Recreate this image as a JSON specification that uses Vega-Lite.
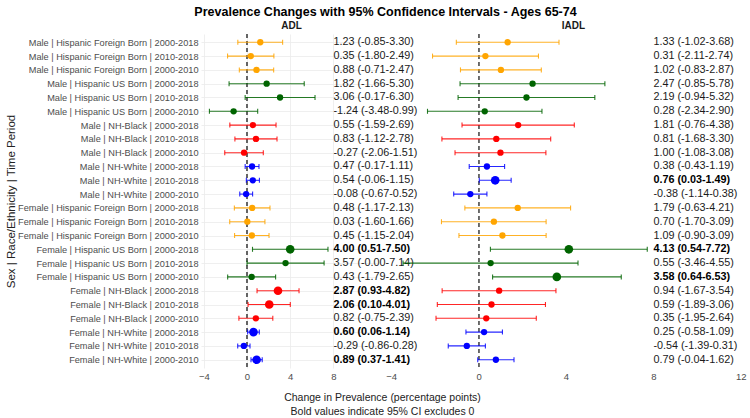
{
  "$schema": "https://vega.github.io/schema/vega-lite/v6.json",
  "background": "white",
  "padding": 5,
  "title": {
    "text": "Prevalence Changes with 95% Confidence Intervals - Ages 65-74",
    "font": "Liberation Sans",
    "fontSize": 12.5,
    "fontWeight": "bold",
    "color": "#000000",
    "anchor": "middle",
    "frame": "bounds",
    "dx": 10,
    "offset": 2
  },
  "config": {
    "font": "Liberation Sans",
    "view": {"stroke": null},
    "axis": {
      "ticks": false,
      "domain": false,
      "grid": true,
      "gridColor": "#ebebeb",
      "gridWidth": 0.8,
      "labelColor": "#4d4d4d",
      "labelFont": "Liberation Sans",
      "titleFont": "Liberation Sans",
      "titleFontWeight": "normal",
      "titleColor": "#222222"
    }
  },
  "datasets": {
    "estimates": [
      {"group": "Male | Hispanic Foreign Born | 2000-2018", "race": "Hispanic Foreign Born", "outcome": "ADL", "est": 1.23, "lo": -0.85, "hi": 3.30, "label": "1.23 (-0.85-3.30)"},
      {"group": "Male | Hispanic Foreign Born | 2010-2018", "race": "Hispanic Foreign Born", "outcome": "ADL", "est": 0.35, "lo": -1.80, "hi": 2.49, "label": "0.35 (-1.80-2.49)"},
      {"group": "Male | Hispanic Foreign Born | 2000-2010", "race": "Hispanic Foreign Born", "outcome": "ADL", "est": 0.88, "lo": -0.71, "hi": 2.47, "label": "0.88 (-0.71-2.47)"},
      {"group": "Male | Hispanic US Born | 2000-2018", "race": "Hispanic US Born", "outcome": "ADL", "est": 1.82, "lo": -1.66, "hi": 5.30, "label": "1.82 (-1.66-5.30)"},
      {"group": "Male | Hispanic US Born | 2010-2018", "race": "Hispanic US Born", "outcome": "ADL", "est": 3.06, "lo": -0.17, "hi": 6.30, "label": "3.06 (-0.17-6.30)"},
      {"group": "Male | Hispanic US Born | 2000-2010", "race": "Hispanic US Born", "outcome": "ADL", "est": -1.24, "lo": -3.48, "hi": 0.99, "label": "-1.24 (-3.48-0.99)"},
      {"group": "Male | NH-Black | 2000-2018", "race": "NH-Black", "outcome": "ADL", "est": 0.55, "lo": -1.59, "hi": 2.69, "label": "0.55 (-1.59-2.69)"},
      {"group": "Male | NH-Black | 2010-2018", "race": "NH-Black", "outcome": "ADL", "est": 0.83, "lo": -1.12, "hi": 2.78, "label": "0.83 (-1.12-2.78)"},
      {"group": "Male | NH-Black | 2000-2010", "race": "NH-Black", "outcome": "ADL", "est": -0.27, "lo": -2.06, "hi": 1.51, "label": "-0.27 (-2.06-1.51)"},
      {"group": "Male | NH-White | 2000-2018", "race": "NH-White", "outcome": "ADL", "est": 0.47, "lo": -0.17, "hi": 1.11, "label": "0.47 (-0.17-1.11)"},
      {"group": "Male | NH-White | 2010-2018", "race": "NH-White", "outcome": "ADL", "est": 0.54, "lo": -0.06, "hi": 1.15, "label": "0.54 (-0.06-1.15)"},
      {"group": "Male | NH-White | 2000-2010", "race": "NH-White", "outcome": "ADL", "est": -0.08, "lo": -0.67, "hi": 0.52, "label": "-0.08 (-0.67-0.52)"},
      {"group": "Female | Hispanic Foreign Born | 2000-2018", "race": "Hispanic Foreign Born", "outcome": "ADL", "est": 0.48, "lo": -1.17, "hi": 2.13, "label": "0.48 (-1.17-2.13)"},
      {"group": "Female | Hispanic Foreign Born | 2010-2018", "race": "Hispanic Foreign Born", "outcome": "ADL", "est": 0.03, "lo": -1.60, "hi": 1.66, "label": "0.03 (-1.60-1.66)"},
      {"group": "Female | Hispanic Foreign Born | 2000-2010", "race": "Hispanic Foreign Born", "outcome": "ADL", "est": 0.45, "lo": -1.15, "hi": 2.04, "label": "0.45 (-1.15-2.04)"},
      {"group": "Female | Hispanic US Born | 2000-2018", "race": "Hispanic US Born", "outcome": "ADL", "est": 4.00, "lo": 0.51, "hi": 7.50, "label": "4.00 (0.51-7.50)"},
      {"group": "Female | Hispanic US Born | 2010-2018", "race": "Hispanic US Born", "outcome": "ADL", "est": 3.57, "lo": -0.00, "hi": 7.14, "label": "3.57 (-0.00-7.14)"},
      {"group": "Female | Hispanic US Born | 2000-2010", "race": "Hispanic US Born", "outcome": "ADL", "est": 0.43, "lo": -1.79, "hi": 2.65, "label": "0.43 (-1.79-2.65)"},
      {"group": "Female | NH-Black | 2000-2018", "race": "NH-Black", "outcome": "ADL", "est": 2.87, "lo": 0.93, "hi": 4.82, "label": "2.87 (0.93-4.82)"},
      {"group": "Female | NH-Black | 2010-2018", "race": "NH-Black", "outcome": "ADL", "est": 2.06, "lo": 0.10, "hi": 4.01, "label": "2.06 (0.10-4.01)"},
      {"group": "Female | NH-Black | 2000-2010", "race": "NH-Black", "outcome": "ADL", "est": 0.82, "lo": -0.75, "hi": 2.39, "label": "0.82 (-0.75-2.39)"},
      {"group": "Female | NH-White | 2000-2018", "race": "NH-White", "outcome": "ADL", "est": 0.60, "lo": 0.06, "hi": 1.14, "label": "0.60 (0.06-1.14)"},
      {"group": "Female | NH-White | 2010-2018", "race": "NH-White", "outcome": "ADL", "est": -0.29, "lo": -0.86, "hi": 0.28, "label": "-0.29 (-0.86-0.28)"},
      {"group": "Female | NH-White | 2000-2010", "race": "NH-White", "outcome": "ADL", "est": 0.89, "lo": 0.37, "hi": 1.41, "label": "0.89 (0.37-1.41)"},

      {"group": "Male | Hispanic Foreign Born | 2000-2018", "race": "Hispanic Foreign Born", "outcome": "IADL", "est": 1.33, "lo": -1.02, "hi": 3.68, "label": "1.33 (-1.02-3.68)"},
      {"group": "Male | Hispanic Foreign Born | 2010-2018", "race": "Hispanic Foreign Born", "outcome": "IADL", "est": 0.31, "lo": -2.11, "hi": 2.74, "label": "0.31 (-2.11-2.74)"},
      {"group": "Male | Hispanic Foreign Born | 2000-2010", "race": "Hispanic Foreign Born", "outcome": "IADL", "est": 1.02, "lo": -0.83, "hi": 2.87, "label": "1.02 (-0.83-2.87)"},
      {"group": "Male | Hispanic US Born | 2000-2018", "race": "Hispanic US Born", "outcome": "IADL", "est": 2.47, "lo": -0.85, "hi": 5.78, "label": "2.47 (-0.85-5.78)"},
      {"group": "Male | Hispanic US Born | 2010-2018", "race": "Hispanic US Born", "outcome": "IADL", "est": 2.19, "lo": -0.94, "hi": 5.32, "label": "2.19 (-0.94-5.32)"},
      {"group": "Male | Hispanic US Born | 2000-2010", "race": "Hispanic US Born", "outcome": "IADL", "est": 0.28, "lo": -2.34, "hi": 2.90, "label": "0.28 (-2.34-2.90)"},
      {"group": "Male | NH-Black | 2000-2018", "race": "NH-Black", "outcome": "IADL", "est": 1.81, "lo": -0.76, "hi": 4.38, "label": "1.81 (-0.76-4.38)"},
      {"group": "Male | NH-Black | 2010-2018", "race": "NH-Black", "outcome": "IADL", "est": 0.81, "lo": -1.68, "hi": 3.30, "label": "0.81 (-1.68-3.30)"},
      {"group": "Male | NH-Black | 2000-2010", "race": "NH-Black", "outcome": "IADL", "est": 1.00, "lo": -1.08, "hi": 3.08, "label": "1.00 (-1.08-3.08)"},
      {"group": "Male | NH-White | 2000-2018", "race": "NH-White", "outcome": "IADL", "est": 0.38, "lo": -0.43, "hi": 1.19, "label": "0.38 (-0.43-1.19)"},
      {"group": "Male | NH-White | 2010-2018", "race": "NH-White", "outcome": "IADL", "est": 0.76, "lo": 0.03, "hi": 1.49, "label": "0.76 (0.03-1.49)"},
      {"group": "Male | NH-White | 2000-2010", "race": "NH-White", "outcome": "IADL", "est": -0.38, "lo": -1.14, "hi": 0.38, "label": "-0.38 (-1.14-0.38)"},
      {"group": "Female | Hispanic Foreign Born | 2000-2018", "race": "Hispanic Foreign Born", "outcome": "IADL", "est": 1.79, "lo": -0.63, "hi": 4.21, "label": "1.79 (-0.63-4.21)"},
      {"group": "Female | Hispanic Foreign Born | 2010-2018", "race": "Hispanic Foreign Born", "outcome": "IADL", "est": 0.70, "lo": -1.70, "hi": 3.09, "label": "0.70 (-1.70-3.09)"},
      {"group": "Female | Hispanic Foreign Born | 2000-2010", "race": "Hispanic Foreign Born", "outcome": "IADL", "est": 1.09, "lo": -0.90, "hi": 3.09, "label": "1.09 (-0.90-3.09)"},
      {"group": "Female | Hispanic US Born | 2000-2018", "race": "Hispanic US Born", "outcome": "IADL", "est": 4.13, "lo": 0.54, "hi": 7.72, "label": "4.13 (0.54-7.72)"},
      {"group": "Female | Hispanic US Born | 2010-2018", "race": "Hispanic US Born", "outcome": "IADL", "est": 0.55, "lo": -3.46, "hi": 4.55, "label": "0.55 (-3.46-4.55)"},
      {"group": "Female | Hispanic US Born | 2000-2010", "race": "Hispanic US Born", "outcome": "IADL", "est": 3.58, "lo": 0.64, "hi": 6.53, "label": "3.58 (0.64-6.53)"},
      {"group": "Female | NH-Black | 2000-2018", "race": "NH-Black", "outcome": "IADL", "est": 0.94, "lo": -1.67, "hi": 3.54, "label": "0.94 (-1.67-3.54)"},
      {"group": "Female | NH-Black | 2010-2018", "race": "NH-Black", "outcome": "IADL", "est": 0.59, "lo": -1.89, "hi": 3.06, "label": "0.59 (-1.89-3.06)"},
      {"group": "Female | NH-Black | 2000-2010", "race": "NH-Black", "outcome": "IADL", "est": 0.35, "lo": -1.95, "hi": 2.64, "label": "0.35 (-1.95-2.64)"},
      {"group": "Female | NH-White | 2000-2018", "race": "NH-White", "outcome": "IADL", "est": 0.25, "lo": -0.58, "hi": 1.09, "label": "0.25 (-0.58-1.09)"},
      {"group": "Female | NH-White | 2010-2018", "race": "NH-White", "outcome": "IADL", "est": -0.54, "lo": -1.39, "hi": 0.31, "label": "-0.54 (-1.39-0.31)"},
      {"group": "Female | NH-White | 2000-2010", "race": "NH-White", "outcome": "IADL", "est": 0.79, "lo": -0.04, "hi": 1.62, "label": "0.79 (-0.04-1.62)"}
    ]
  },
  "width": 545,
  "height": 334,
  "data": {"name": "estimates"},
  "resolve": {"scale": {"x": "independent"}, "axis": {"x": "independent"}},
  "layer": [
    {
      "transform": [{"filter": "datum.outcome === 'ADL'"}],
      "resolve": {"axis": {"x": "independent"}},
      "layer": [
        {
          "mark": {"type": "rule", "color": "#666666", "strokeDash": [4, 3], "strokeWidth": 0.8},
          "encoding": {
            "x": {"datum": 0, "type": "quantitative",
              "scale": {"domain": [-4.26, 12.04], "range": [0, 176], "nice": false, "zero": false},
              "axis": {"values": [-4, 0, 4, 8], "labelFontSize": 9.5, "labelPadding": 3,
                "title": ["Change in Prevalence (percentage points)", "Bold values indicate 95% CI excludes 0"],
                "titleFontSize": 10.5, "titleLineHeight": 14, "titleAnchor": "middle", "titleAlign": "center", "titleBaseline": "top", "titleX": 181, "titleY": 24}}
          }
        },
        {
          "mark": {"type": "rule", "strokeWidth": 1.1, "opacity": 0.85},
          "encoding": {
            "y": {"field": "group", "type": "nominal", "sort": null, "scale": {"type": "point", "padding": 0.6},
              "axis": {"title": "Sex | Race/Ethnicity | Time Period", "titleFontSize": 11.5, "titlePadding": 3, "labelFontSize": 9.2, "labelPadding": 3, "labelLimit": 230, "minExtent": 182, "maxExtent": 182}},
            "x": {"field": "lo", "type": "quantitative",
              "axis": {"orient": "top", "labels": false, "grid": false, "values": [], "title": "ADL", "titleFontSize": 10, "titleFontWeight": "bold", "titleColor": "#1a1a1a", "titleAnchor": "middle", "titleAlign": "center", "titleBaseline": "middle", "titleX": 90, "titleY": -9}},
            "x2": {"field": "hi"},
            "color": {"field": "race", "type": "nominal", "legend": null,
              "scale": {"domain": ["Hispanic Foreign Born", "Hispanic US Born", "NH-Black", "NH-White"], "range": ["#FFA500", "#006400", "#FF0000", "#0000FF"]}}
          }
        },
        {
          "mark": {"type": "tick", "size": 5, "thickness": 1.1, "opacity": 0.85},
          "encoding": {
            "y": {"field": "group", "type": "nominal", "sort": null},
            "x": {"field": "lo", "type": "quantitative", "axis": null},
            "color": {"field": "race", "type": "nominal"}
          }
        },
        {
          "mark": {"type": "tick", "size": 5, "thickness": 1.1, "opacity": 0.85},
          "encoding": {
            "y": {"field": "group", "type": "nominal", "sort": null},
            "x": {"field": "hi", "type": "quantitative", "axis": null},
            "color": {"field": "race", "type": "nominal"}
          }
        },
        {
          "mark": {"type": "circle", "opacity": 1},
          "encoding": {
            "y": {"field": "group", "type": "nominal", "sort": null},
            "x": {"field": "est", "type": "quantitative", "axis": null},
            "color": {"field": "race", "type": "nominal"},
            "size": {"condition": {"test": "datum.lo > 0 || datum.hi < 0", "value": 75}, "value": 40}
          }
        },
        {
          "transform": [{"filter": "!(datum.lo > 0 || datum.hi < 0)"}],
          "mark": {"type": "text", "align": "left", "baseline": "middle", "fontSize": 10.8, "color": "#1a1a1a"},
          "encoding": {
            "y": {"field": "group", "type": "nominal", "sort": null},
            "x": {"datum": 8, "type": "quantitative", "axis": null},
            "text": {"field": "label"}
          }
        },
        {
          "transform": [{"filter": "datum.lo > 0 || datum.hi < 0"}],
          "mark": {"type": "text", "align": "left", "baseline": "middle", "fontSize": 10.8, "fontWeight": "bold", "color": "#000000"},
          "encoding": {
            "y": {"field": "group", "type": "nominal", "sort": null},
            "x": {"datum": 8, "type": "quantitative", "axis": null},
            "text": {"field": "label"}
          }
        }
      ]
    },
    {
      "transform": [{"filter": "datum.outcome === 'IADL'"}],
      "resolve": {"axis": {"x": "independent"}},
      "layer": [
        {
          "mark": {"type": "rule", "color": "#666666", "strokeDash": [4, 3], "strokeWidth": 0.8},
          "encoding": {
            "x": {"datum": 0, "type": "quantitative",
              "scale": {"domain": [-4.56, 12.24], "range": [178, 545], "nice": false, "zero": false},
              "axis": {"values": [-4, 0, 4, 8, 12], "labelFontSize": 9.5, "labelPadding": 3, "title": null}}
          }
        },
        {
          "mark": {"type": "rule", "strokeWidth": 1.1, "opacity": 0.85},
          "encoding": {
            "y": {"field": "group", "type": "nominal", "sort": null},
            "x": {"field": "lo", "type": "quantitative",
              "axis": {"orient": "top", "labels": false, "grid": false, "values": [], "title": "IADL", "titleFontSize": 10, "titleFontWeight": "bold", "titleColor": "#1a1a1a", "titleAnchor": "middle", "titleAlign": "center", "titleBaseline": "middle", "titleX": 372, "titleY": -9}},
            "x2": {"field": "hi"},
            "color": {"field": "race", "type": "nominal"}
          }
        },
        {
          "mark": {"type": "tick", "size": 5, "thickness": 1.1, "opacity": 0.85},
          "encoding": {
            "y": {"field": "group", "type": "nominal", "sort": null},
            "x": {"field": "lo", "type": "quantitative", "axis": null},
            "color": {"field": "race", "type": "nominal"}
          }
        },
        {
          "mark": {"type": "tick", "size": 5, "thickness": 1.1, "opacity": 0.85},
          "encoding": {
            "y": {"field": "group", "type": "nominal", "sort": null},
            "x": {"field": "hi", "type": "quantitative", "axis": null},
            "color": {"field": "race", "type": "nominal"}
          }
        },
        {
          "mark": {"type": "circle", "opacity": 1},
          "encoding": {
            "y": {"field": "group", "type": "nominal", "sort": null},
            "x": {"field": "est", "type": "quantitative", "axis": null},
            "color": {"field": "race", "type": "nominal"},
            "size": {"condition": {"test": "datum.lo > 0 || datum.hi < 0", "value": 75}, "value": 40}
          }
        },
        {
          "transform": [{"filter": "!(datum.lo > 0 || datum.hi < 0)"}],
          "mark": {"type": "text", "align": "left", "baseline": "middle", "fontSize": 10.8, "color": "#1a1a1a"},
          "encoding": {
            "y": {"field": "group", "type": "nominal", "sort": null},
            "x": {"datum": 8, "type": "quantitative", "axis": null},
            "text": {"field": "label"}
          }
        },
        {
          "transform": [{"filter": "datum.lo > 0 || datum.hi < 0"}],
          "mark": {"type": "text", "align": "left", "baseline": "middle", "fontSize": 10.8, "fontWeight": "bold", "color": "#000000"},
          "encoding": {
            "y": {"field": "group", "type": "nominal", "sort": null},
            "x": {"datum": 8, "type": "quantitative", "axis": null},
            "text": {"field": "label"}
          }
        }
      ]
    }
  ]
}
